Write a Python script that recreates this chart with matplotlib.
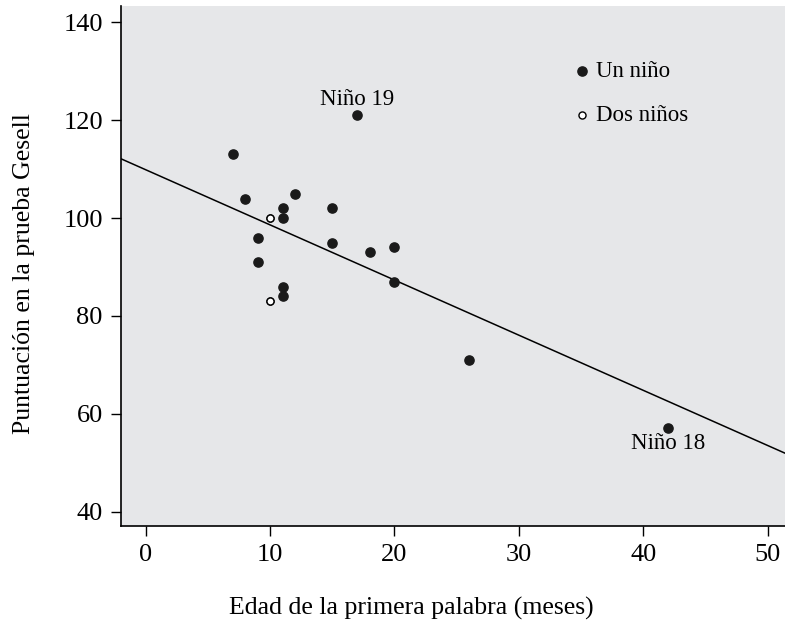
import numpy as np
import matplotlib.pyplot as plt

# edad de la primera palabra (meses) y puntuacion Gesell
edad = [15, 26, 10, 9, 15, 20, 18, 11, 8, 20, 7, 9, 10, 11, 11, 10, 12, 42, 17, 11, 10]
gesell = [95, 71, 83, 91, 102, 87, 93, 100, 104, 94, 113, 96, 83, 84, 102, 100, 105, 57, 121, 86, 100]

x_ticks = [0, 10, 20, 30, 40, 50]
y_ticks = [40, 60, 80, 100, 120, 140]

plt.rcParams['font.family'] = ['Liberation Serif', 'DejaVu Serif']

edad = np.array(edad)
gesell = np.array(gesell)

# puntos repetidos -> "dos niños"
pares = list(zip(edad, gesell))
cuenta = np.array([pares.count(p) for p in pares])
uno = cuenta == 1
dos = cuenta > 1

fig = plt.figure(figsize=(7.85, 6.23), dpi=100)
ax = fig.add_axes([0.154, 0.156, 0.846, 0.834])
ax.set_facecolor('#e6e7e9')

ax.set_xlim(-2, 51.4)
ax.set_ylim(37.1, 143.3)

m, b = np.polyfit(edad, gesell, 1)
xs = np.array(ax.get_xlim())
ax.plot(xs, m * xs + b, color='black', lw=1.1, zorder=2)

ax.scatter(edad[uno], gesell[uno], s=44, color='#1a1a1a', zorder=3, label='Un niño')
ax.scatter(edad[dos], gesell[dos], s=26, facecolor='white', edgecolor='black',
           linewidth=1.0, zorder=3, label='Dos niños')

ax.annotate('Niño 19', (17, 121), xytext=(0, 4), textcoords='offset points',
            ha='center', va='bottom', fontsize=16.5)
ax.annotate('Niño 18', (42, 57), xytext=(0, -3), textcoords='offset points',
            ha='center', va='top', fontsize=16.5)

ax.legend(loc='upper left', bbox_to_anchor=(0.643, 0.935), frameon=False,
          fontsize=16.5, handlelength=1.2, handletextpad=0.0, labelspacing=1.0,
          markerscale=1.0)

ax.set_xticks(x_ticks)
ax.set_yticks(y_ticks)
ax.tick_params(labelsize=19, length=7, width=1, direction='out', pad=6)
for s in ['top', 'right']:
    ax.spines[s].set_visible(False)
for s in ['left', 'bottom']:
    ax.spines[s].set_linewidth(1.2)

ax.set_xlabel('Edad de la primera palabra (meses)', fontsize=18.5, labelpad=22, x=0.437)
ax.set_ylabel('Puntuación en la prueba Gesell', fontsize=18.5, labelpad=20, y=0.485)

fig.savefig('out.png', dpi=100)
